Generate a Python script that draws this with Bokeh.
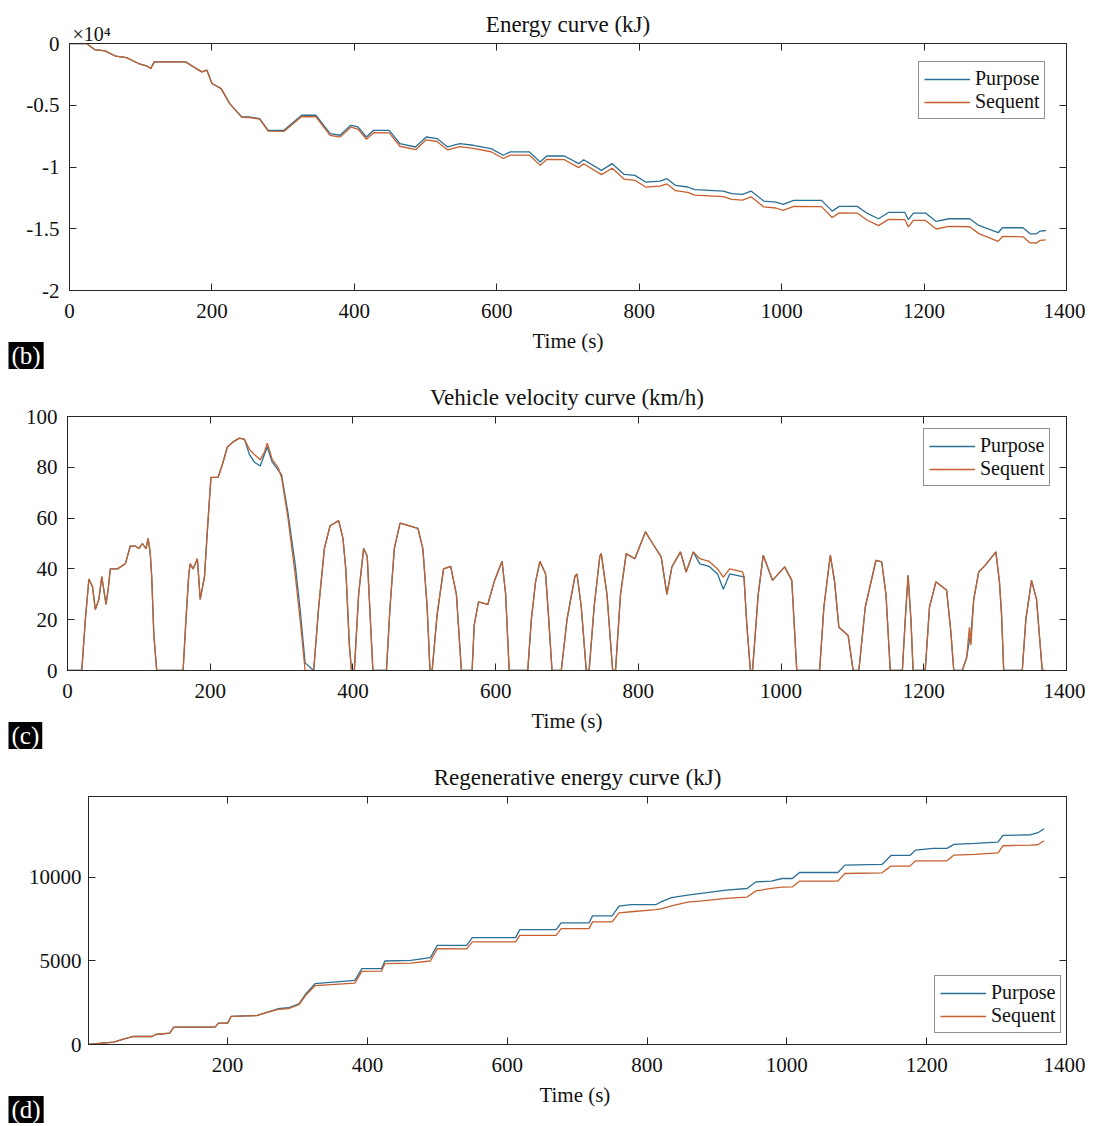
from bokeh.plotting import figure
from bokeh.models import Range1d, LinearAxis, FixedTicker, Legend, LegendItem, Title
from bokeh.embed import file_html
from bokeh.resources import INLINE

# ---------------- data ----------------
# (b) Energy curve (kJ)
energy_t = [0, 24, 35, 50, 65, 80, 97, 109, 114, 119, 163, 178, 186, 193, 200, 213, 225, 242, 252, 267,
            279, 301, 326, 346, 366, 380, 395, 405, 417, 427, 449, 464, 486, 501, 516, 531, 548, 567, 592, 609,
            619, 646, 661, 670, 695, 715, 722, 747, 762, 779, 794, 809, 829, 839, 851, 868, 878, 918, 930, 945,
            957, 975, 992, 1002, 1017, 1056, 1071, 1081, 1106, 1121, 1136, 1150, 1173, 1178, 1185, 1202, 1217, 1235, 1264, 1277,
            1304, 1310, 1339, 1349, 1358, 1363, 1371]
energy_purpose = [0, 0, -490, -600, -1030, -1140, -1620, -1840, -2030, -1490, -1490, -2030, -2300, -2160, -3240, -3650, -4870, -5950, -5950, -6080,
                  -7030, -7030, -5810, -5810, -7300, -7430, -6620, -6760, -7570, -7030, -7030, -8110, -8380, -7570, -7700, -8380, -8110, -8240, -8510, -9050,
                  -8780, -8780, -9600, -9110, -9110, -9730, -9410, -10270, -9730, -10600, -10680, -11220, -11140, -10950, -11490, -11620, -11840, -11950, -12160, -12220,
                  -11950, -12760, -12840, -13030, -12700, -12700, -13570, -13190, -13190, -13780, -14190, -13680, -13680, -14270, -13730, -13730, -14410, -14190, -14190, -14730,
                  -15320, -14920, -14920, -15410, -15410, -15190, -15140]
energy_sequent = [0, 0, -490, -600, -1030, -1140, -1620, -1840, -2030, -1490, -1490, -2030, -2300, -2160, -3240, -3650, -4870, -5980, -5990, -6130,
                  -7100, -7120, -5920, -5930, -7440, -7580, -6780, -6930, -7750, -7220, -7230, -8320, -8600, -7800, -7935, -8620, -8355, -8490, -8765, -9310,
                  -9042, -9045, -9870, -9390, -9410, -10050, -9740, -10620, -10100, -10985, -11075, -11625, -11555, -11370, -11915, -12050, -12275, -12400, -12615, -12680,
                  -12415, -13235, -13320, -13515, -13190, -13210, -14090, -13715, -13730, -14330, -14750, -14245, -14255, -14850, -14315, -14325, -15020, -14815, -14840, -15395,
                  -16020, -15625, -15650, -16150, -16155, -15940, -15897]

# (c) Vehicle velocity curve (km/h)
speed_t = [0, 20, 25, 30, 35, 39, 44, 48, 54, 57, 60, 70, 81, 88, 95, 100, 105, 110, 113, 116,
           118, 121, 125, 162, 166, 170, 172, 176, 182, 186, 192, 196, 201, 211, 218, 224, 232, 241, 248, 255,
           262, 270, 276, 280, 287, 295, 300, 309, 319, 326, 333, 345, 352, 360, 368, 380, 386, 390, 395, 398,
           402, 408, 415, 420, 428, 447, 452, 458, 466, 478, 491, 498, 504, 508, 511, 518, 527, 537, 545, 552,
           567, 570, 576, 589, 598, 609, 614, 619, 645, 650, 656, 662, 670, 674, 679, 692, 700, 711, 714, 720,
           727, 731, 738, 746, 748, 756, 764, 768, 775, 783, 795, 810, 820, 832, 840, 847, 859, 867, 877, 886,
           899, 911, 919, 928, 946, 948, 952, 957, 960, 968, 975, 988, 1005, 1015, 1022, 1054, 1060, 1069, 1075, 1081,
           1094, 1101, 1109, 1118, 1133, 1141, 1147, 1153, 1170, 1174, 1178, 1182, 1185, 1202, 1208, 1217, 1232, 1238, 1242, 1254,
           1260, 1264, 1266, 1270, 1277, 1286, 1301, 1306, 1309, 1312, 1338, 1343, 1351, 1358, 1366, 1370]
speed_sequent = [0, 0, 20, 36, 33, 24, 28, 37, 26, 32, 40, 40, 42, 49, 49, 48, 50, 48, 52, 46,
                 37, 14, 0, 0, 20, 38, 42, 40, 44, 28, 37, 55, 76, 76, 82, 88, 90, 91.5, 91, 87,
                 85, 83, 86, 89.5, 83, 80, 76, 60, 38, 20, 0, 0, 25, 48, 57, 59, 52, 40, 10, 0,
                 0, 30, 48, 45, 0, 0, 25, 48, 58, 57, 56, 48, 25, 0, 0, 22, 40, 41, 30, 0,
                 0, 18, 27, 26, 35, 43, 30, 0, 0, 20, 35, 43, 38, 22, 0, 0, 20, 37, 38, 25,
                 0, 0, 25, 45, 46, 30, 0, 0, 30, 46, 44, 54.6, 50, 44.7, 30, 40.8, 46.7, 38.8, 46.7, 44,
                 43, 40, 36.8, 40, 38.8, 37, 18, 0, 0, 30, 45.4, 35.5, 40.8, 35.5, 0, 0, 25, 45.4, 35, 17,
                 13.8, 0, 0, 25, 43.4, 42.8, 30, 0, 0, 20, 37.5, 20, 0, 0, 25, 34.9, 31.6, 15, 0, 0,
                 5, 17, 10, 28, 38.8, 41.4, 46.7, 35, 22, 0, 0, 20, 35.5, 28, 0, 0]
speed_purpose = [0, 0, 20, 36, 33, 24, 28, 37, 26, 32, 40, 40, 42, 49, 49, 48, 50, 48, 52, 46,
                 37, 14, 0, 0, 20, 38, 42, 40, 44, 28, 37, 55, 76, 76, 82, 88, 90, 91.5, 91, 85,
                 82, 80.5, 85, 88, 82, 79, 77, 62, 42, 24, 3, 0, 25, 48, 57, 59, 52, 40, 10, 0,
                 0, 30, 48, 45, 0, 0, 25, 48, 58, 57, 56, 48, 25, 0, 0, 22, 40, 41, 30, 0,
                 0, 18, 27, 26, 35, 43, 30, 0, 0, 20, 35, 43, 38, 22, 0, 0, 20, 37, 38, 25,
                 0, 0, 25, 45, 46, 30, 0, 0, 30, 46, 44, 54.6, 50, 44.7, 30, 40.8, 46.7, 38.8, 46.7, 42,
                 41, 38, 32, 38, 37, 37, 18, 0, 0, 30, 45.4, 35.5, 40.8, 35.5, 0, 0, 25, 45.4, 35, 17,
                 13.8, 0, 0, 25, 43.4, 42.8, 30, 0, 0, 20, 37.5, 20, 0, 0, 25, 34.9, 31.6, 15, 0, 0,
                 5, 12, 14, 28, 38.8, 41.4, 46.7, 35, 22, 0, 0, 20, 35.5, 28, 0, 0]

# (d) Regenerative energy curve (kJ)
regen_t = [0, 37, 52, 65, 92, 97, 117, 123, 182, 187, 200, 205, 242, 257, 272, 287, 302, 312, 325, 382,
           392, 420, 425, 462, 490, 500, 542, 550, 612, 618, 670, 677, 717, 722, 750, 760, 777, 813, 820, 835,
           858, 883, 913, 943, 956, 978, 993, 1008, 1018, 1073, 1083, 1136, 1149, 1176, 1184, 1209, 1229, 1239, 1269, 1302,
           1309, 1349, 1359, 1368]
regen_purpose = [0, 140, 340, 480, 480, 600, 680, 1040, 1040, 1280, 1280, 1680, 1740, 1940, 2140, 2200, 2440, 3040, 3640, 3840,
                 4540, 4540, 5000, 5040, 5200, 5940, 5940, 6400, 6400, 6880, 6880, 7280, 7280, 7700, 7700, 8280, 8380, 8380, 8540, 8800,
                 8940, 9080, 9240, 9340, 9740, 9780, 9940, 9940, 10300, 10300, 10740, 10780, 11320, 11320, 11640, 11740, 11740, 11980, 12040, 12120,
                 12520, 12560, 12680, 12920]
regen_sequent = [0, 140, 340, 480, 480, 600, 680, 1040, 1040, 1280, 1280, 1680, 1730, 1920, 2100, 2150, 2380, 2960, 3520, 3680,
                 4380, 4390, 4840, 4870, 5000, 5740, 5730, 6150, 6140, 6540, 6540, 6940, 6940, 7340, 7340, 7880, 7950, 8080, 8120, 8300,
                 8520, 8620, 8750, 8830, 9200, 9350, 9420, 9440, 9780, 9780, 10240, 10280, 10680, 10680, 11000, 11000, 11000, 11340, 11380, 11480,
                 11900, 11940, 11960, 12200]

x_ticks = [0, 200, 400, 600, 800, 1000, 1200, 1400]
x_ticks_regen = [200, 400, 600, 800, 1000, 1200, 1400]
energy_yticks = [-20000, -15000, -10000, -5000, 0]
energy_ylabels = {-20000: "-2", -15000: "-1.5", -10000: "-1", -5000: "-0.5", 0: "0"}
speed_yticks = [0, 20, 40, 60, 80, 100]
regen_yticks = [0, 5000, 10000]
series_names = ["Purpose", "Sequent"]

# ---------------- style ----------------
FONT = "Liberation Serif"
C_P = "#2b6f94"
C_S = "#c6602e"
AX = "#262626"
INK = "#111111"
W = 1085
RIGHT = 19


def style_axis(ax, ticks, labels=True, standoff=6):
    ax.ticker = FixedTicker(ticks=ticks)
    ax.major_tick_in = 7
    ax.major_tick_out = 0
    ax.minor_tick_in = 0
    ax.minor_tick_out = 0
    ax.axis_line_color = AX
    ax.major_tick_line_color = AX
    ax.major_label_text_font = FONT
    if labels:
        ax.major_label_text_color = INK
        ax.major_label_text_font_size = "21px"
        ax.major_label_standoff = standoff
    else:
        ax.major_label_text_color = None
        ax.major_label_text_font_size = "1px"
        ax.major_label_standoff = 0


def make_panel(title, height, b_top, b_bottom, b_left, xr, yr, xt, yt, xlabel, ystand, ylabel_over=None):
    p = figure(width=W, height=height, output_backend="svg", toolbar_location=None,
               x_range=xr, y_range=yr, min_border_left=b_left, min_border_right=RIGHT,
               min_border_top=b_top, min_border_bottom=b_bottom)
    if title:
        p.title.text = title
        p.title.align = "center"
        p.title.text_font = FONT
        p.title.text_font_size = "23px"
        p.title.text_font_style = "normal"
        p.title.text_color = INK
        p.title.standoff = 13
    else:
        p.title.visible = False
    p.xgrid.visible = False
    p.ygrid.visible = False
    p.outline_line_color = AX
    p.outline_line_alpha = 1
    p.background_fill_color = "white"
    p.border_fill_color = "white"
    style_axis(p.xaxis[0], xt, True, 13)
    style_axis(p.yaxis[0], yt, True, ystand)
    if ylabel_over:
        p.yaxis[0].major_label_overrides = ylabel_over
    p.xaxis[0].axis_label = xlabel
    p.xaxis[0].axis_label_text_font = FONT
    p.xaxis[0].axis_label_text_font_size = "21px"
    p.xaxis[0].axis_label_text_font_style = "normal"
    p.xaxis[0].axis_label_text_color = INK
    p.xaxis[0].axis_label_standoff = 8
    top = LinearAxis()
    style_axis(top, xt, False)
    p.add_layout(top, "above")
    right = LinearAxis()
    style_axis(right, yt, False)
    p.add_layout(right, "right")
    return p


def add_series(p, t, ys_p, ys_s, loc):
    rp = p.line(t, ys_p, line_color=C_P, line_width=1.3)
    rs = p.line(t, ys_s, line_color=C_S, line_width=1.3)
    leg = Legend(items=[LegendItem(label=series_names[0], renderers=[rp]),
                        LegendItem(label=series_names[1], renderers=[rs])],
                 location=loc)
    leg.label_text_font = FONT
    leg.label_text_font_size = "20px"
    leg.label_text_color = INK
    leg.label_height = 20
    leg.glyph_height = 20
    leg.glyph_width = 46
    leg.label_standoff = 5
    leg.spacing = 0
    leg.padding = 5
    leg.margin = 0
    leg.border_line_color = AX
    leg.border_line_width = 1
    leg.background_fill_color = "white"
    leg.background_fill_alpha = 1
    p.add_layout(leg)
    return p


def tag(p, text, offset):
    # panel tag drawn on the axis-label row, left of the frame
    p.add_layout(Title(text=text, align="left", offset=offset, vertical_align="middle",
                       standoff=-32, text_font=FONT, text_font_size="25px",
                       text_font_style="normal", text_color="white",
                       background_fill_color="black", background_fill_alpha=1,
                       padding=dict(left=3, right=3, top=0, bottom=0)), "below")


# panel (b): frame 69..1066 x 43..290, figure 0..371
p1 = make_panel(None, 371, 43, 81, 69, Range1d(0, 1400), Range1d(-20000, 0),
                x_ticks, energy_yticks, "Time (s)", 10, energy_ylabels)
add_series(p1, energy_t, energy_purpose, energy_sequent, (849, 171))
p1.add_layout(Title(text="×10⁴", align="left", offset=3, vertical_align="middle", standoff=-5,
                    text_font=FONT, text_font_size="20px", text_font_style="normal",
                    text_color=INK), "above")
p1.add_layout(Title(text="Energy curve (kJ)", align="center", vertical_align="middle", standoff=-29,
                    text_font=FONT, text_font_size="23px", text_font_style="normal",
                    text_color=INK), "above")
tag(p1, "(b)", -61)

# panel (c): frame 67..1066 x 416..670, figure 371..752
p2 = make_panel("Vehicle velocity curve (km/h)", 381, 45, 82, 67, Range1d(0, 1400), Range1d(0, 100),
                x_ticks, speed_yticks, "Time (s)", 10)
add_series(p2, speed_t, speed_purpose, speed_sequent, (856, 184))
tag(p2, "(c)", -59)

# panel (d): frame 88..1066 x 796..1044, figure 752..1126
p3 = make_panel("Regenerative energy curve (kJ)", 374, 44, 82, 88, Range1d(1, 1400), Range1d(0, 14850),
                x_ticks_regen, regen_yticks, "Time  (s)", 7)
add_series(p3, regen_t, regen_purpose, regen_sequent, (846, 11))
tag(p3, "(d)", -80)

open("out.html", "w").write(file_html([p1, p2, p3], INLINE))
